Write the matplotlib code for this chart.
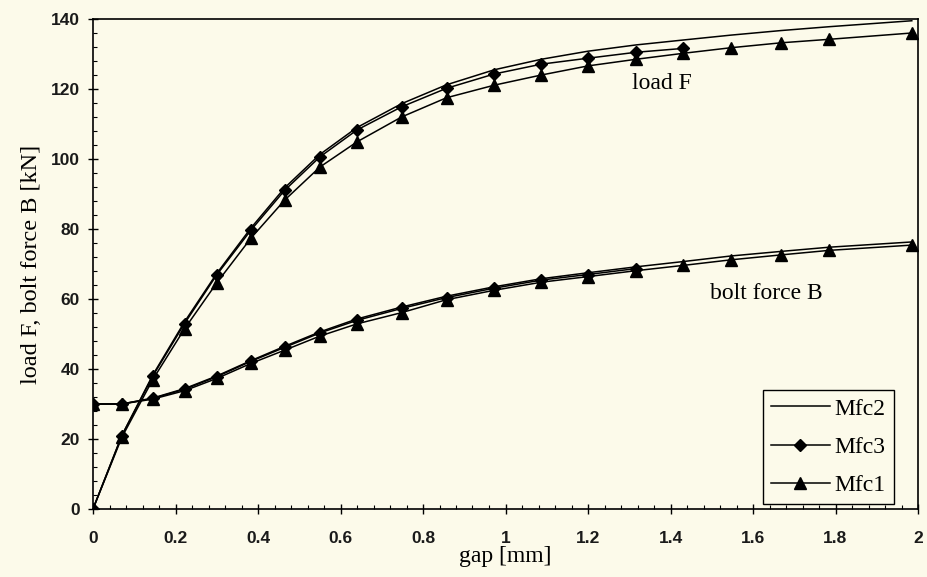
import matplotlib
matplotlib.use("Agg")
import matplotlib.pyplot as plt
from matplotlib.ticker import MultipleLocator

# ---- data ----
gap = [0, 0.07, 0.145, 0.222, 0.30, 0.383, 0.465, 0.55, 0.64, 0.748,
       0.857, 0.973, 1.087, 1.2, 1.317, 1.431, 1.547, 1.668, 1.785, 1.985]

load_mfc2 = [0, 21, 38.3, 53.5, 67.3, 80.3, 91.8, 101.3, 109, 115.8,
             121.2, 125.5, 128.5, 130.8, 132.6, 134.0, 135.4, 136.7, 137.8, 139.5]
load_mfc3 = [0, 21, 38, 53, 66.9, 79.7, 91.1, 100.6, 108.3, 114.9,
             120.2, 124.3, 127.1, 128.8, 130.5, 131.6]
load_mfc1 = [0, 20.5, 37, 51.5, 64.6, 77.4, 88.3, 97.7, 104.9, 112,
             117.5, 121.1, 124, 126.6, 128.5, 130.2, 131.8, 133.2, 134.2, 136]

bolt_mfc2 = [30, 30, 31.7, 34.4, 38.0, 42.4, 46.5, 50.6, 54.3, 57.7,
             60.8, 63.5, 65.8, 67.5, 69.2, 70.7, 72.3, 73.6, 74.8, 76.3]
bolt_mfc3 = [30, 30, 31.6, 34.2, 37.8, 42.2, 46.2, 50.3, 53.9, 57.3,
             60.4, 63.1, 65.4, 67.0, 68.7]
bolt_mfc1 = [30, 30, 31.4, 33.8, 37.3, 41.6, 45.4, 49.4, 52.9, 56.1,
             59.8, 62.5, 64.8, 66.4, 68.1, 69.6, 71.2, 72.6, 73.9, 75.4]

series_names = ["Mfc2", "Mfc3", "Mfc1"]
x_ticks = [0, 0.2, 0.4, 0.6, 0.8, 1, 1.2, 1.4, 1.6, 1.8, 2]
x_tick_labels = ["0", "0.2", "0.4", "0.6", "0.8", "1", "1.2", "1.4", "1.6", "1.8", "2"]
y_ticks = [0, 20, 40, 60, 80, 100, 120, 140]

# ---- figure ----
bg = "#fcfaea"
fig = plt.figure(figsize=(9.27, 5.77), dpi=100, facecolor=bg)
ax = fig.add_axes([93 / 927, 68 / 577, 825 / 927, 490 / 577], facecolor=bg)

serif = ["Liberation Serif", "DejaVu Serif"]
sans = ["Liberation Sans", "DejaVu Sans"]

lw = 1.1
ax.plot(gap, load_mfc2, color="black", lw=lw, label=series_names[0])
ax.plot(gap[:len(load_mfc3)], load_mfc3, color="black", lw=lw, marker="D",
        ms=6.5, label=series_names[1])
ax.plot(gap, load_mfc1, color="black", lw=lw, marker="^", ms=9,
        label=series_names[2])

ax.plot(gap, bolt_mfc2, color="black", lw=lw)
ax.plot(gap[:len(bolt_mfc3)], bolt_mfc3, color="black", lw=lw, marker="D", ms=6.5)
ax.plot(gap, bolt_mfc1, color="black", lw=lw, marker="^", ms=9)

ax.set_xlim(0, 2)
ax.set_ylim(0, 140)
ax.set_xticks(x_ticks)
ax.set_xticklabels(x_tick_labels)
ax.set_yticks(y_ticks)
ax.xaxis.set_minor_locator(MultipleLocator(0.04))
ax.yaxis.set_minor_locator(MultipleLocator(4))

ax.tick_params(which="major", direction="inout", length=7, width=1.0,
               colors="black")
ax.tick_params(axis="x", which="major", pad=12)
ax.tick_params(axis="y", which="major", pad=6)
ax.tick_params(which="minor", direction="in", length=3, width=0.8)
for lab in ax.get_xticklabels() + ax.get_yticklabels():
    lab.set_family(sans)
    lab.set_fontweight("bold")
    lab.set_fontsize(12.5)
    lab.set_color("#1a1a1a")

for sp in ax.spines.values():
    sp.set_linewidth(1.2)
    sp.set_color("black")

ax.set_xlabel("gap [mm]", family=serif, fontsize=17, labelpad=0)
ax.set_ylabel("load F, bolt force B [kN]", family=serif, fontsize=17.5,
              labelpad=6)

ax.text(1.307, 121.6, "load F", family=serif, fontsize=17, va="center",
        ha="left")
ax.text(1.496, 61.7, "bolt force B", family=serif, fontsize=17, va="center",
        ha="left")

leg = ax.legend(loc="lower right", bbox_to_anchor=(0.971, 0.01),
                prop={"family": serif, "size": 17}, frameon=True,
                fancybox=False, shadow=False, handlelength=2.5,
                handletextpad=0.2, labelspacing=0.7, borderpad=0.35,
                borderaxespad=0)
leg.get_frame().set_edgecolor("black")
leg.get_frame().set_linewidth(1.0)
leg.get_frame().set_facecolor(bg)
leg.get_frame().set_alpha(1)

fig.savefig("out.png", dpi=100, facecolor=bg)
